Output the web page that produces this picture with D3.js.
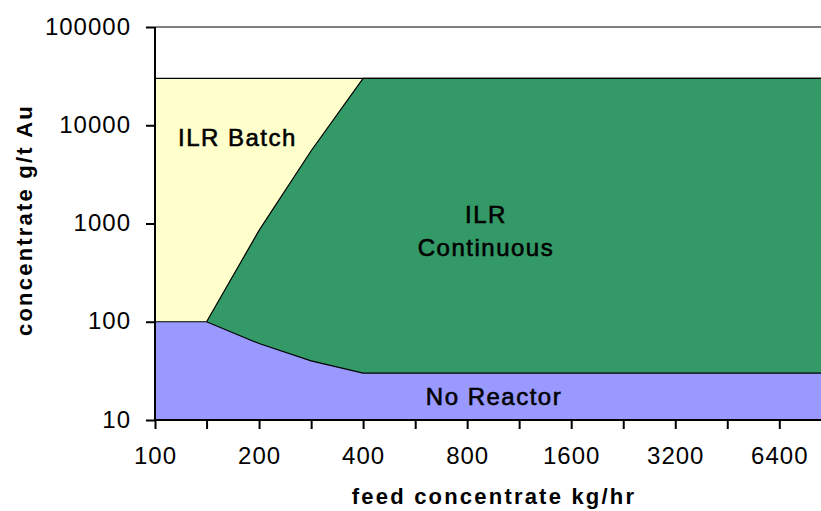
<!DOCTYPE html>
<html>
<head>
<meta charset="utf-8">
<script src="https://cdn.jsdelivr.net/npm/d3@7"></script>
<style>
  body { margin: 0; background: #fff; }
  svg text { font-family: "Liberation Sans", Arial, sans-serif; fill: #000; }
</style>
</head>
<body>
<div id="mainDiv"></div>
<script>
// feed rate categories (kg/hr), one every half doubling
var feed = [100, 141, 200, 283, 400, 566, 800, 1131, 1600, 2263, 3200, 4525, 6400, 9051];
// labelled categories
var xTickValues = [100, 200, 400, 800, 1600, 3200, 6400];
var xTickLabels = ["100", "200", "400", "800", "1600", "3200", "6400"];
var yTickValues = [10, 100, 1000, 10000, 100000];
var yTickLabels = ["10", "100", "1000", "10000", "100000"];

// concentrate g/t Au, boundary of each region
var ilrBatch      = [30000, 30000, 30000, 30000, 30000, 30000, 30000, 30000, 30000, 30000, 30000, 30000, 30000, 30000];
var ilrContinuous = [null, 100, 850, 5500, 30000, 30000, 30000, 30000, 30000, 30000, 30000, 30000, 30000, 30000];
var noReactor     = [100, 100, 60, 40, 30, 30, 30, 30, 30, 30, 30, 30, 30, 30];

var svg = d3.select("#mainDiv").append("svg").attr("width", 821).attr("height", 511);

var x = d3.scaleLog().base(2).domain([100, 6400]).range([155, 779.3]);
var y = d3.scaleLog().domain([10, 100000]).range([420, 27]);

function series(vals) {
    return feed.map(function(f, i) { return { x: f, v: vals[i] }; });
}

var area = d3.area()
    .defined(function(d) { return d.v != null; })
    .x(function(d) { return x(d.x); })
    .y0(y(10))
    .y1(function(d) { return y(d.v); });

var line = d3.line()
    .defined(function(d) { return d.v != null; })
    .x(function(d) { return x(d.x); })
    .y(function(d) { return y(d.v); });

// top border of plot
svg.append("line")
    .attr("x1", x(100)).attr("x2", 821)
    .attr("y1", y(100000)).attr("y2", y(100000))
    .attr("stroke", "#808080").attr("stroke-width", 2);

// regions, back to front
var layers = [
    { vals: ilrBatch, color: "#FFFFCC" },
    { vals: ilrContinuous, color: "#339966" },
    { vals: noReactor, color: "#9999FF" }
];
layers.forEach(function(l) {
    var d = series(l.vals);
    svg.append("path").attr("d", area(d)).attr("fill", l.color);
    svg.append("path").attr("d", line(d))
        .attr("fill", "none").attr("stroke", "#000").attr("stroke-width", 1.2);
});

// y axis
var yAxis = svg.append("g").attr("transform", "translate(155,0)")
    .call(d3.axisLeft(y).tickValues(yTickValues)
        .tickFormat(function(d, i) { return yTickLabels[i]; })
        .tickSize(9).tickPadding(15));
yAxis.selectAll("line, path").attr("stroke", "#000").attr("stroke-width", 2);
yAxis.select(".domain").attr("d", "M0," + y(100000) + "V" + y(10));
yAxis.selectAll("text").attr("font-size", 24).attr("dy", "0.3em")
    .attr("letter-spacing", 1)
    .attr("font-family", "Liberation Sans, Arial, sans-serif");

// x axis, ticks every category, labels every other
var xAxis = svg.append("g").attr("transform", "translate(0,420)")
    .call(d3.axisBottom(x).tickValues(feed.slice(0, 13))
        .tickFormat(function(d) {
            var i = xTickValues.indexOf(d);
            return i >= 0 ? xTickLabels[i] : "";
        })
        .tickSize(9).tickPadding(18));
xAxis.selectAll("line, path").attr("stroke", "#000").attr("stroke-width", 2);
xAxis.select(".domain").attr("d", "M" + x(100) + ",0H821");
xAxis.selectAll("text").attr("font-size", 24).attr("letter-spacing", 1)
    .attr("font-family", "Liberation Sans, Arial, sans-serif");

// region labels
var regionLabels = [
    { text: "ILR Batch", x: 178, y: 146, anchor: "start" },
    { text: "ILR", x: 486, y: 223, anchor: "middle" },
    { text: "Continuous", x: 486, y: 256, anchor: "middle" },
    { text: "No Reactor", x: 494, y: 405, anchor: "middle" }
];
regionLabels.forEach(function(r) {
    svg.append("text").attr("x", r.x).attr("y", r.y).attr("font-size", 24)
        .attr("text-anchor", r.anchor).attr("letter-spacing", 1.5)
        .attr("stroke", "#000").attr("stroke-width", 0.6)
        .text(r.text);
});

// axis titles
svg.append("text").attr("x", 494).attr("y", 504).attr("font-size", 22)
    .attr("font-weight", "bold").attr("text-anchor", "middle")
    .attr("letter-spacing", 2.2).text("feed concentrate kg/hr");
svg.append("text").attr("transform", "translate(32,220) rotate(-90)")
    .attr("font-size", 22).attr("font-weight", "bold").attr("text-anchor", "middle")
    .attr("letter-spacing", 2.2).text("concentrate g/t Au");
</script>
</body>
</html>
